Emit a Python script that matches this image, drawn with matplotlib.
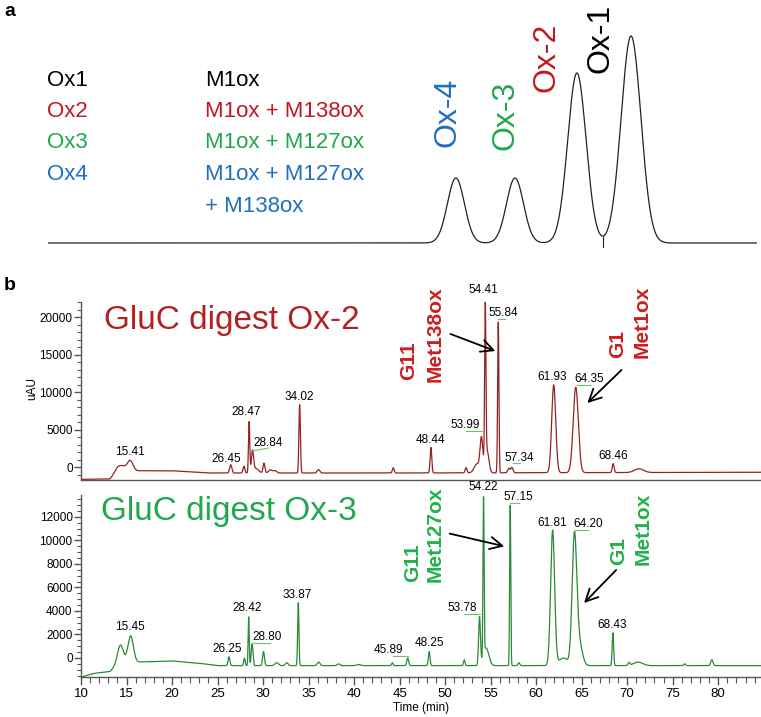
import numpy as np
import matplotlib.pyplot as plt
from matplotlib.ticker import MultipleLocator

plt.rcParams['font.family'] = ['Liberation Sans', 'DejaVu Sans']

# ---- panel a: separation of the oxidised forms
a_names = ['Ox-4', 'Ox-3', 'Ox-2', 'Ox-1']
a_times = [17.26, 19.76, 22.38, 24.67]
a_heights = [65, 65, 170, 207]
a_sigmas = [0.36, 0.36, 0.39, 0.42]
a_colors = ['#1f6fc0', '#1ea84c', '#c0181f', 'black']
# where the rotated names sit (x, bottom of text)
a_label_x = [16.92, 19.34, 21.11, 23.36]
a_label_y = [96, 93, 151, 170]

legend_left = ['Ox1', 'Ox2', 'Ox3', 'Ox4', '']
legend_right = ['M1ox', 'M1ox + M138ox', 'M1ox + M127ox', 'M1ox + M127ox', '+ M138ox']
legend_colors = ['black', '#c0181f', '#1ea84c', '#1f6fc0', '#1f6fc0']

# ---- panel b, top: GluC digest Ox-2  (baseline points + peaks: time, height, sigma)
ox2_base_t = [10, 13.2, 14.0, 20, 24, 45, 85]
ox2_base_v = [-1650, -1600, -500, -500, -800, -800, -700]
ox2_peak_t = [14.4, 15.41, 26.45, 27.9, 28.47, 28.84, 29.2, 30.1, 30.8, 31.3, 34.02, 36.1,
              44.3, 48.44, 52.3, 53.5, 53.99, 54.41, 54.6, 55.84, 57.0, 57.34, 61.93,
              64.35, 68.46, 71.3]
ox2_peak_h = [700, 1300, 1100, 900, 6800, 2800, 600, 1300, 400, 300, 9100, 450,
              700, 3400, 700, 1200, 4500, 20800, 3000, 20100, 600, 700, 11700,
              11400, 1200, 500]
ox2_peak_s = [0.5, 0.3, 0.12, 0.1, 0.07, 0.12, 0.3, 0.1, 0.2, 0.2, 0.08, 0.15,
              0.1, 0.09, 0.1, 0.3, 0.15, 0.07, 0.2, 0.07, 0.12, 0.12, 0.22,
              0.28, 0.1, 0.5]
ox2_labels = ['15.41', '26.45', '28.47', '28.84', '34.02', '48.44', '53.99', '54.41',
              '55.84', '57.34', '61.93', '64.35', '68.46']
ox2_label_x = [15.4, 26.0, 28.2, 30.6, 34.0, 48.4, 52.2, 54.2, 56.4, 58.2, 61.8, 65.8, 68.5]
ox2_label_y = [2000, 1070, 7330, 3200, 9330, 3600, 5600, 23600, 20500, 1200, 12000, 11700, 1470]

# ---- panel b, bottom: GluC digest Ox-3
ox3_base_t = [10, 11.5, 13.2, 14.0, 20, 23, 25, 85]
ox3_base_v = [-1620, -1300, -1150, -400, -250, -450, -650, -650]
ox3_peak_t = [14.35, 15.45, 26.25, 27.95, 28.42, 28.80, 30.05, 31.5, 32.6, 33.87, 36.1,
              38.3, 40.5, 44.2, 45.89, 48.25, 52.1, 53.78, 54.22, 54.5, 57.15, 58.1,
              61.81, 63.0, 64.20, 64.7, 68.43, 70.2, 71.2, 76.3, 79.3]
ox3_peak_h = [1500, 2250, 750, 650, 4150, 1850, 1200, 250, 250, 5350, 300,
              150, 100, 250, 650, 1200, 500, 4100, 13400, 1500, 13650, 250,
              11500, 650, 10650, 2000, 2780, 250, 300, 150, 500]
ox3_peak_s = [0.3, 0.3, 0.1, 0.08, 0.06, 0.1, 0.1, 0.2, 0.15, 0.07, 0.15,
              0.15, 0.2, 0.08, 0.1, 0.09, 0.08, 0.1, 0.06, 0.3, 0.06, 0.1,
              0.22, 0.5, 0.25, 0.35, 0.08, 0.1, 0.5, 0.1, 0.12]
ox3_labels = ['15.45', '26.25', '28.42', '28.80', '33.87', '45.89', '48.25', '53.78',
              '54.22', '57.15', '61.81', '64.20', '68.43']
ox3_label_x = [15.4, 26.1, 28.2, 30.4, 33.8, 43.8, 48.3, 51.9, 54.2, 58.1, 61.8, 65.7, 68.4]
ox3_label_y = [2640, 770, 4250, 1790, 5360, 680, 1280, 4250, 14550, 13700, 11490, 11400, 2810]

# leader lines under some peak labels: x0, x1, y0, y1
ox2_marks = [(28.8, 30.6, 2130, 2530), (52.3, 54.1, 4800, 4800), (55.8, 56.6, 19730, 19730),
             (57.5, 58.2, 530, 530), (64.5, 65.9, 10930, 10930)]
ox3_marks = [(28.8, 30.8, 1280, 1280), (44.3, 45.9, 170, 170), (52.1, 53.8, 3740, 3740),
             (57.1, 58.1, 13190, 13190), (64.3, 65.7, 10890, 10890)]


def trace(t, base_t, base_v, pt, ph, ps):
    y = np.interp(t, base_t, base_v)
    for c, h, s in zip(pt, ph, ps):
        y = y + h * np.exp(-(t - c) ** 2 / (2 * s * s))
    return y


fig = plt.figure(figsize=(7.61, 7.17), dpi=100)
W, H = 761., 717.

# ================= panel a
axa = fig.add_axes([48 / W, (717 - 248) / H, 709 / W, 220 / H])
ta = np.linspace(0, 30, 3000)
ya = trace(ta, [0, 30], [0, 0], a_times, a_heights, a_sigmas)
axa.plot(ta, ya, color='#222222', lw=0.9)
axa.set_xlim(0, 30)
axa.set_ylim(-5, 215)
axa.axis('off')
between = (ta > a_times[2]) & (ta < a_times[3])
valley = ta[between][np.argmin(ya[between])]
axa.vlines(valley, -5, np.interp(valley, ta, ya), color='#222222', lw=0.8)
for name, x, y, c in zip(a_names, a_label_x, a_label_y, a_colors):
    axa.text(x, y, name, rotation=90, ha='center', va='bottom',
             fontsize=23, color=c, clip_on=False)

for i in range(len(legend_right)):
    ypx = 80 + 31.5 * i
    fig.text(47 / W, 1 - ypx / H, legend_left[i], fontsize=16, color=legend_colors[i],
             ha='left', va='center')
    fig.text(205 / W, 1 - ypx / H, legend_right[i], fontsize=16, color=legend_colors[i],
             ha='left', va='center')

fig.text(4 / W, 1 - 11 / H, 'a', fontsize=14, fontweight='bold', va='center')
fig.text(4 / W, 1 - 285 / H, 'b', fontsize=14, fontweight='bold', va='center')

# ================= panel b
t = np.linspace(10, 85, 15000)
ax1 = fig.add_axes([81 / W, (717 - 480) / H, 680 / W, 178 / H])
ax2 = fig.add_axes([81 / W, (717 - 677) / H, 680 / W, 182 / H])

ax1.plot(t, trace(t, ox2_base_t, ox2_base_v, ox2_peak_t, ox2_peak_h, ox2_peak_s),
         color='#952222', lw=0.9)
ax2.plot(t, trace(t, ox3_base_t, ox3_base_v, ox3_peak_t, ox3_peak_h, ox3_peak_s),
         color='#2a8a35', lw=0.9)

ax1.set_ylim(-1733, 22000)
ax2.set_ylim(-1617, 13870)
for ax in (ax1, ax2):
    ax.set_xlim(10, 84.7)
    ax.spines['top'].set_visible(False)
    ax.spines['right'].set_visible(False)
    for s in ('left', 'bottom'):
        ax.spines[s].set_color('#555555')
        ax.spines[s].set_linewidth(1.0)
    ax.tick_params(which='major', direction='out', length=5, width=1, color='#555555',
                   labelsize=8.5, pad=1)
    ax.tick_params(which='minor', direction='out', length=3, width=0.8, color='#555555')

ax1.yaxis.set_major_locator(MultipleLocator(5000))
ax1.yaxis.set_minor_locator(MultipleLocator(1000))
ax1.tick_params(axis='x', which='both', bottom=False, labelbottom=False)
ax2.yaxis.set_major_locator(MultipleLocator(2000))
ax2.yaxis.set_minor_locator(MultipleLocator(500))
ax2.xaxis.set_major_locator(MultipleLocator(5))
ax2.xaxis.set_minor_locator(MultipleLocator(1))
ax2.tick_params(axis='x', which='major', length=6, labelsize=9.5, pad=2)
ax2.tick_params(axis='x', which='minor', length=4)
ax2.set_xlabel('Time (min)', fontsize=8.5, labelpad=1)
fig.text(32 / W, 1 - 388 / H, 'uAU', rotation=90, fontsize=8.5, ha='center', va='center')

ax1.text(12.5, 19600, 'GluC digest Ox-2', fontsize=24, color='#b22222', va='center')
ax2.text(12.2, 12500, 'GluC digest Ox-3', fontsize=24, color='#20a84f', va='center')

for ax, labs, lx, ly, marks in ((ax1, ox2_labels, ox2_label_x, ox2_label_y, ox2_marks),
                                (ax2, ox3_labels, ox3_label_x, ox3_label_y, ox3_marks)):
    for s, x, y in zip(labs, lx, ly):
        ax.text(x, y, s, fontsize=8.5, ha='center', va='center', clip_on=False)
    for x0, x1, y0, y1 in marks:
        ax.plot([x0, x1], [y0, y1], color='#6cc46c', lw=0.8)

red = '#cc1f1f'
green = '#22b14c'
lab = dict(rotation=90, ha='center', va='bottom', fontsize=15, fontweight='bold')
ax1.text(46.0, 11600, 'G11', color=red, **lab)
ax1.text(48.9, 11330, 'Met138ox', color=red, **lab)
ax1.text(69.0, 14530, 'G1', color=red, **lab)
ax1.text(71.6, 14530, 'Met1ox', color=red, **lab)
ax2.text(46.4, 6470, 'G11', color=green, **lab)
ax2.text(48.9, 6470, 'Met127ox', color=green, **lab)
ax2.text(69.1, 7910, 'G1', color=green, **lab)
ax2.text(71.8, 7910, 'Met1ox', color=green, **lab)

arr = dict(arrowstyle='->', lw=1.3, color='black', mutation_scale=22)
ax1.annotate('', xy=(55.8, 15330), xytext=(50.3, 17870), arrowprops=arr)
ax1.annotate('', xy=(65.4, 8270), xytext=(69.6, 13200), arrowprops=arr)
ax2.annotate('', xy=(56.8, 9450), xytext=(50.2, 10640), arrowprops=arr)
ax2.annotate('', xy=(65.05, 4510), xytext=(69.0, 7660), arrowprops=arr)

fig.savefig('out.png', dpi=100)
